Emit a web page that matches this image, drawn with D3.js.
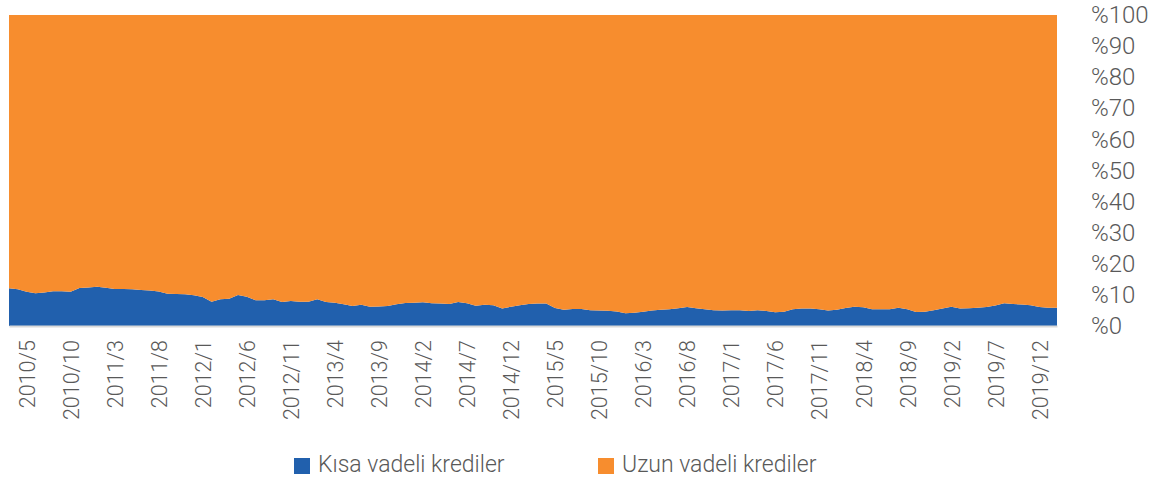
<html>
<head>
<meta charset="utf-8">
<script src="https://d3js.org/d3.v7.min.js"></script>
<style>
body { margin: 0; background: #fff; }
text { font-family: Roboto, 'Open Sans', sans-serif; font-weight: 300; fill: #595959; }
</style>
</head>
<body>
<svg width="1154" height="479"></svg>
<script>
// monthly series, 2010/3 .. 2020/2
const startYear = 2010, startMonth = 3, monthCount = 120
const tickLabels = ['2010/5','2010/10','2011/3','2011/8','2012/1','2012/6','2012/11','2013/4','2013/9','2014/2','2014/7','2014/12',
  '2015/5','2015/10','2016/3','2016/8','2017/1','2017/6','2017/11','2018/4','2018/9','2019/2','2019/7','2019/12']
const yTicks = [0,10,20,30,40,50,60,70,80,90,100]
const seriesNames = ['Kısa vadeli krediler', 'Uzun vadeli krediler']
const colors = ['#2160ad', '#f78d2e']

// share of short term loans (%)
const shortTerm = [
  12.1,11.8,11.0,10.5,10.8,11.2,11.2,11.0,12.2,12.4,
  12.6,12.3,11.9,11.9,11.8,11.6,11.4,11.1,10.4,10.3,
  10.2,9.9,9.3,7.8,8.6,8.8,10.0,9.4,8.3,8.3,
  8.6,7.7,8.0,7.8,7.8,8.6,7.7,7.5,7.0,6.4,
  6.8,6.2,6.3,6.4,7.0,7.4,7.5,7.6,7.3,7.2,
  7.1,7.7,7.3,6.5,6.8,6.7,5.6,6.2,6.7,7.1,
  7.2,7.2,5.8,5.2,5.5,5.5,5.1,5.0,4.9,4.7,
  4.1,4.3,4.6,5.0,5.2,5.4,5.7,6.1,5.7,5.4,
  5.1,5.0,5.1,5.1,4.8,5.1,4.8,4.4,4.6,5.4,
  5.6,5.6,5.4,5.0,5.2,5.8,6.2,6.0,5.4,5.4,
  5.4,5.9,5.4,4.5,4.6,5.1,5.6,6.2,5.6,5.7,
  5.9,6.1,6.6,7.3,7.1,6.9,6.7,6.1,5.9,5.9
]
const longTerm = shortTerm.map(v => 100 - v)

const months = []
for (let i = 0; i < monthCount; i++) {
  const m = startMonth - 1 + i
  months.push(`${startYear + Math.floor(m / 12)}/${m % 12 + 1}`)
}
const rows = months.map((m, i) => ({ month: m, short: shortTerm[i], long: longTerm[i] }))

const svg = d3.select('svg')
const plotLeft = 9, plotRight = 1057, plotTop = 15, plotBottom = 326

const x = d3.scalePoint().domain(months).range([plotLeft, plotRight])
const y = d3.scaleLinear().domain([0, 100]).range([plotBottom, plotTop])

const stack = d3.stack().keys(['short', 'long'])(rows)
const area = d3.area()
  .x(d => x(d.data.month))
  .y0(d => y(d[0]))
  .y1(d => y(d[1]))

svg.append('g').selectAll('path').data(stack).enter().append('path')
  .attr('d', area)
  .attr('fill', (d, i) => colors[i])

// x axis
const xAxis = svg.append('g')
  .attr('transform', `translate(0,${plotBottom})`)
  .call(d3.axisBottom(x).tickValues(tickLabels).tickSize(0))
xAxis.select('.domain').attr('stroke', '#d9d9d9').attr('stroke-width', 2)
xAxis.selectAll('text')
  .attr('transform', 'rotate(-90)')
  .attr('text-anchor', 'end')
  .attr('x', -14)
  .attr('y', 0)
  .attr('dy', '0.36em')
  .style('font-size', '21.5px')
  .style('font-family', 'Roboto, sans-serif')
  .attr('fill', '#595959')

// y axis on the right
const yAxis = svg.append('g')
  .attr('transform', 'translate(1091,0)')
  .call(d3.axisRight(y).tickValues(yTicks).tickSize(0).tickPadding(0).tickFormat(d => '%' + d))
yAxis.select('.domain').remove()
yAxis.selectAll('text')
  .style('font-size', '24px')
  .style('font-family', 'Roboto, sans-serif')
  .attr('fill', '#595959')

// legend
const legendX = [294, 598]
const legend = svg.append('g')
seriesNames.forEach((name, i) => {
  legend.append('rect')
    .attr('x', legendX[i]).attr('y', 458)
    .attr('width', 16).attr('height', 16)
    .attr('fill', colors[i])
  legend.append('text')
    .attr('x', legendX[i] + 24).attr('y', 464)
    .attr('dy', '0.35em')
    .style('font-size', '23px')
    .text(name)
})
</script>
</body>
</html>
